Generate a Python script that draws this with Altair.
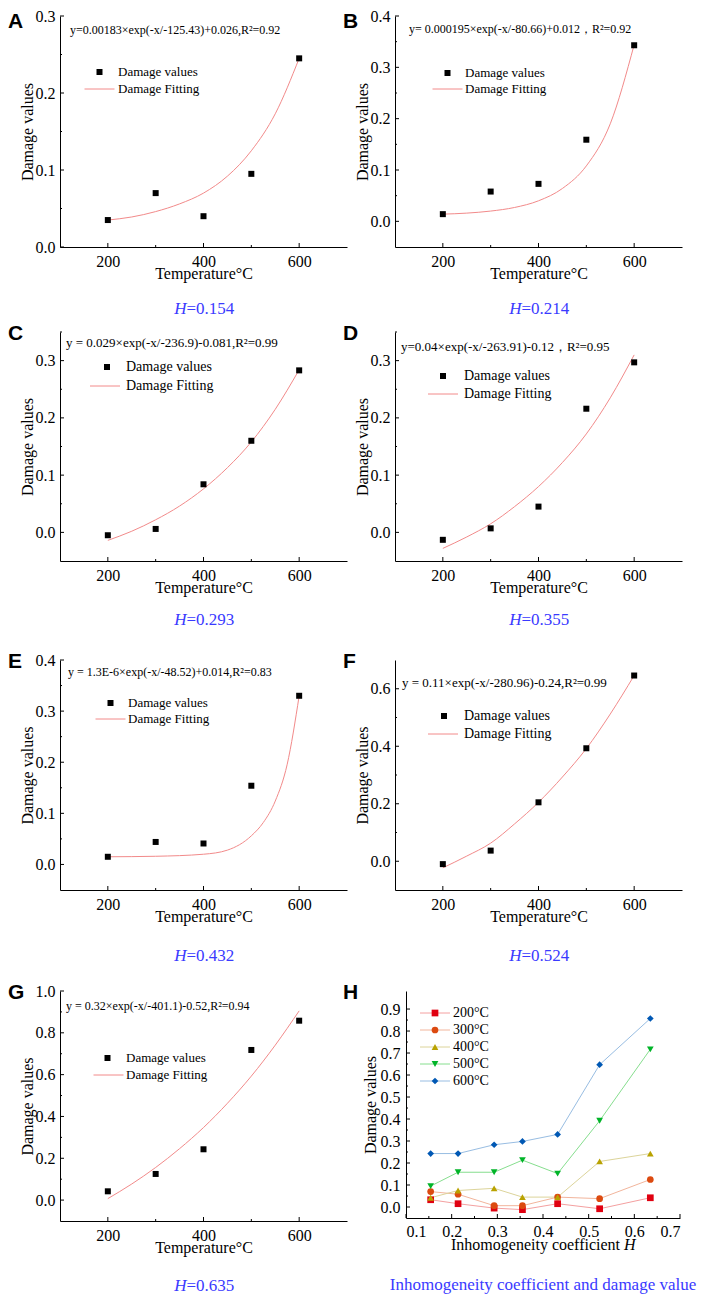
import altair as alt
import pandas as pd

SERIF = "Liberation Serif"
SANS = "Liberation Sans"
BLUE = "#3a3aff"
FIT_COLOR = "#f28a8a"

# ---------------- data ----------------
temps = [200, 300, 400, 500, 600]
fit_temps = [200, 250, 300, 350, 400, 450, 500, 550, 600]
fit_temps_E = [200, 300, 400, 450, 500, 525, 550, 575, 600]

damage_A = [0.035, 0.070, 0.040, 0.095, 0.245]
fit_A = [0.035, 0.039, 0.046, 0.056, 0.070, 0.092, 0.125, 0.173, 0.245]
damage_B = [0.014, 0.058, 0.073, 0.159, 0.343]
fit_B = [0.014, 0.016, 0.020, 0.027, 0.040, 0.064, 0.108, 0.190, 0.344]
damage_C = [-0.005, 0.006, 0.084, 0.160, 0.283]
fit_C = [-0.014, 0.002, 0.022, 0.046, 0.076, 0.113, 0.158, 0.215, 0.284]
damage_D = [-0.013, 0.007, 0.045, 0.216, 0.297]
fit_D = [-0.028, -0.008, 0.015, 0.045, 0.080, 0.122, 0.172, 0.235, 0.310]
damage_E = [0.015, 0.044, 0.041, 0.154, 0.330]
fit_E = [0.015, 0.016, 0.020, 0.028, 0.056, 0.082, 0.124, 0.196, 0.330]
damage_F = [-0.010, 0.037, 0.205, 0.393, 0.646]
fit_F = [-0.023, 0.018, 0.063, 0.130, 0.205, 0.293, 0.392, 0.512, 0.646]
damage_G = [0.042, 0.125, 0.243, 0.718, 0.858]
fit_G = [0.007, 0.077, 0.156, 0.246, 0.347, 0.463, 0.593, 0.741, 0.905]

equations = [
    "y=0.00183×exp(-x/-125.43)+0.026,R²=0.92",
    "y= 0.000195×exp(-x/-80.66)+0.012，R²=0.92",
    "y = 0.029×exp(-x/-236.9)-0.081,R²=0.99",
    "y=0.04×exp(-x/-263.91)-0.12，R²=0.95",
    "y = 1.3E-6×exp(-x/-48.52)+0.014,R²=0.83",
    "y = 0.11×exp(-x/-280.96)-0.24,R²=0.99",
    "y = 0.32×exp(-x/-401.1)-0.52,R²=0.94",
]
letters = ["A", "B", "C", "D", "E", "F", "G", "H"]
h_labels = ["=0.154", "=0.214", "=0.293", "=0.355", "=0.432", "=0.524", "=0.635"]
legend_labels = ["Damage values", "Damage Fitting"]

H_values = [0.154, 0.214, 0.293, 0.355, 0.432, 0.524, 0.635]
series_names = ["200°C", "300°C", "400°C", "500°C", "600°C"]
h_200 = [0.033, 0.015, -0.005, -0.012, 0.015, -0.008, 0.042]
h_300 = [0.070, 0.058, 0.006, 0.006, 0.045, 0.038, 0.125]
h_400 = [0.042, 0.075, 0.085, 0.045, 0.045, 0.207, 0.243]
h_500 = [0.095, 0.158, 0.158, 0.213, 0.152, 0.392, 0.717]
h_600 = [0.243, 0.243, 0.283, 0.298, 0.330, 0.647, 0.857]
point_colors = ["#e00010", "#dc4a10", "#b9a200", "#00b428", "#0058b4"]
line_colors = ["#f4a0a0", "#f2b59c", "#dcd49a", "#86de8e", "#98bde2"]
point_shapes = ["square", "circle", "triangle-up", "triangle-down", "diamond"]

W = 287
IND = dict(color="independent", shape="independent")
AX = dict(labelFont=SERIF, labelFontSize=16, titleFont=SERIF, titleFontSize=16,
          titleFontWeight="normal", labelColor="black", titleColor="black")
# horizontal line legend symbols (custom paths scaled by sqrt(size)/2)
LINE_SYM_36 = "M-5,0L5,0"
LINE_SYM_45 = "M-4.47,0L4.47,0"


def text_layer(txt, x, y, size, color="black", font=SERIF, style="normal",
               weight="normal", align="left"):
    return alt.Chart(alt.Data(values=[{"t": txt}])).mark_text(
        align=align, baseline="middle", font=font, fontSize=size,
        fontStyle=style, fontWeight=weight, color=color
    ).encode(text="t:N", x=alt.value(x), y=alt.value(y))


def tick_layers(xf, yf, xmaj, xmin, ymaj, ymin, xsc, ysc, xax, yax, h):
    out = []
    for vals, ln in ((xmaj, 4), (xmin, 2)):
        out.append(alt.Chart(pd.DataFrame({xf: vals})).mark_rule(
            color="black", strokeWidth=1).encode(
            x=alt.X(f"{xf}:Q", scale=xsc, axis=xax),
            y=alt.value(h), y2=alt.value(h - ln)))
    for vals, ln in ((ymaj, 4), (ymin, 2)):
        out.append(alt.Chart(pd.DataFrame({yf: vals})).mark_rule(
            color="black", strokeWidth=1).encode(
            y=alt.Y(f"{yf}:Q", scale=ysc, axis=yax),
            x=alt.value(0), x2=alt.value(ln)))
    return out


def caption_layers(label, cx, y):
    return [
        text_layer("H", cx - 17, y, 17, BLUE, style="italic", align="right"),
        text_layer(label, cx - 17, y, 17, BLUE, align="left"),
    ]


def temp_panel(i, damage, fx, fy, h, ydom, ymaj, ymin, eq_xy, eq_fs,
               leg, leg_fs, cap_dy, letter_dy):
    xsc = alt.Scale(domain=[100, 700], nice=False, zero=False)
    ysc = alt.Scale(domain=ydom, nice=False, zero=False)
    pts = pd.DataFrame({"T": temps, "D": damage, "k": legend_labels[0]})
    fit = pd.DataFrame({"T": fx, "D": fy, "k": legend_labels[1]})
    xax = alt.Axis(values=[200, 400, 600], title="Temperature°C",
                   labelPadding=14, labelBaseline="middle",
                   titleY=26, titleBaseline="middle", **AX)
    yax = alt.Axis(values=ymaj, format=".1f", title="Damage values",
                   labelPadding=5, titleX=-33, titleBaseline="middle", **AX)
    sq_x, line_x0, text_x, row1, row2 = leg
    pts_layer = alt.Chart(pts).mark_point(
        shape="square", filled=True, size=36, opacity=1).encode(
        x=alt.X("T:Q", scale=xsc, axis=xax),
        y=alt.Y("D:Q", scale=ysc, axis=yax),
        color=alt.Color("k:N", scale=alt.Scale(domain=[legend_labels[0]], range=["black"]),
                        legend=alt.Legend(title=None, orient="none",
                                          legendX=sq_x - 5, legendY=row1 - leg_fs / 2,
                                          symbolType="square", symbolSize=36,
                                          labelFont=SERIF, labelFontSize=leg_fs,
                                          labelColor="black",
                                          labelOffset=text_x - sq_x - 7, padding=0)),
    )
    line_c = line_x0 + 15
    fit_layer = alt.Chart(fit).mark_line(strokeWidth=1, interpolate="monotone").encode(
        x=alt.X("T:Q", scale=xsc, axis=xax),
        y=alt.Y("D:Q", scale=ysc, axis=yax),
        color=alt.Color("k:N", scale=alt.Scale(domain=[legend_labels[1]], range=[FIT_COLOR]),
                        legend=alt.Legend(title=None, orient="none",
                                          legendX=line_c - 5, legendY=row2 - leg_fs / 2,
                                          symbolType=LINE_SYM_36, symbolSize=36,
                                          symbolStrokeWidth=1,
                                          labelFont=SERIF, labelFontSize=leg_fs,
                                          labelColor="black",
                                          labelOffset=text_x - line_c - 7, padding=0)),
    )
    extra = tick_layers("T", "D", [200, 400, 600], [300, 500], ymaj, ymin,
                        xsc, ysc, xax, yax, h)
    extra.append(text_layer(equations[i], eq_xy[0], eq_xy[1], eq_fs))
    extra += caption_layers(h_labels[i], W / 2, h + cap_dy)
    extra.append(text_layer(letters[i], -52, letter_dy, 21, font=SANS, weight="bold"))
    return alt.layer(fit_layer, pts_layer, *extra).resolve_scale(**IND).properties(
        width=W, height=h)


A = temp_panel(0, damage_A, fit_temps, fit_A, 231, [0, 0.3], [0, 0.1, 0.2, 0.3],
               [0.05, 0.15, 0.25], (10, 14), 12, (38, 23, 57, 56, 73), 13, 62, 6)
B = temp_panel(1, damage_B, fit_temps, fit_B, 231, [-0.05, 0.4], [0, 0.1, 0.2, 0.3, 0.4],
               [0.05, 0.15, 0.25, 0.35], (14, 13), 12, (51, 36, 69, 57, 73), 13, 62, 6)
C = temp_panel(2, damage_C, fit_temps, fit_C, 229, [-0.05, 0.35], [0, 0.1, 0.2, 0.3],
               [0.05, 0.15, 0.25, 0.35], (6, 11), 13, (45, 28, 64, 35, 54), 14, 59, 2)
D = temp_panel(3, damage_D, fit_temps, fit_D, 229, [-0.05, 0.35], [0, 0.1, 0.2, 0.3],
               [0.05, 0.15, 0.25, 0.35], (6, 15), 13, (46, 31, 67, 44, 62), 14, 59, 2)
E = temp_panel(4, damage_E, fit_temps_E, fit_E, 230, [-0.05, 0.4], [0, 0.1, 0.2, 0.3, 0.4],
               [0.05, 0.15, 0.25, 0.35], (8, 12), 12, (49, 34, 67, 43, 59), 13, 66, 2)
F = temp_panel(5, damage_F, fit_temps, fit_F, 230, [-0.1, 0.7], [0, 0.2, 0.4, 0.6],
               [0.1, 0.3, 0.5], (7, 23), 13, (47, 31, 67, 56, 74), 14, 66, 2)
G = temp_panel(6, damage_G, fit_temps, fit_G, 230, [-0.1, 1.0], [0, 0.2, 0.4, 0.6, 0.8, 1.0],
               [0.1, 0.3, 0.5, 0.7, 0.9], (6, 15), 12, (46, 32, 65, 67, 84), 13, 65, 2)

# ---------------- panel H ----------------
WH, HH = 274, 227
rows = []
for name, vals in zip(series_names, [h_200, h_300, h_400, h_500, h_600]):
    for hv, dv in zip(H_values, vals):
        rows.append({"H": hv, "D": dv, "S": name})
hdf = pd.DataFrame(rows)
hx = alt.Scale(domain=[0.1, 0.7], nice=False, zero=False)
hy = alt.Scale(domain=[-0.05, 0.982], nice=False, zero=False)
hmaj = [0.0, 0.1, 0.2, 0.3, 0.4, 0.5, 0.6, 0.7, 0.8, 0.9]
hmin = [0.05, 0.15, 0.25, 0.35, 0.45, 0.55, 0.65, 0.75, 0.85]
xmajH = [0.1, 0.2, 0.3, 0.4, 0.5, 0.6, 0.7]
xminH = [0.15, 0.25, 0.35, 0.45, 0.55, 0.65]
hxax = alt.Axis(values=xmajH, format=".1f", title=None, labelPadding=13,
                labelBaseline="middle", **AX)
hyax = alt.Axis(values=hmaj, format=".1f", title="Damage values",
                labelPadding=6, titleX=-36, titleBaseline="middle", **AX)
leg_pts = alt.Legend(title=None, orient="none", legendX=22, legendY=15,
                     symbolSize=45, labelFont=SERIF, labelFontSize=14,
                     labelColor="black", labelOffset=11, padding=0, rowPadding=3)
h_lines = alt.Chart(hdf).mark_line(strokeWidth=1).encode(
    x=alt.X("H:Q", scale=hx, axis=hxax),
    y=alt.Y("D:Q", scale=hy, axis=hyax),
    color=alt.Color("S:N", scale=alt.Scale(domain=series_names, range=line_colors),
                    legend=alt.Legend(title=None, orient="none", legendX=22, legendY=15,
                                      symbolType=LINE_SYM_45, symbolSize=45,
                                      symbolStrokeWidth=1,
                                      labelFont=SERIF, labelFontSize=14, labelOpacity=0,
                                      labelOffset=11, padding=0, rowPadding=3)),
)
h_pts = alt.Chart(hdf).mark_point(filled=True, size=45, opacity=1).encode(
    x=alt.X("H:Q", scale=hx, axis=hxax),
    y=alt.Y("D:Q", scale=hy, axis=hyax),
    color=alt.Color("S:N", scale=alt.Scale(domain=series_names, range=point_colors),
                    legend=leg_pts),
    shape=alt.Shape("S:N", scale=alt.Scale(domain=series_names, range=point_shapes),
                    legend=leg_pts),
)
h_extra = tick_layers("H", "D", xmajH, xminH, hmaj, hmin, hx, hy, hxax, hyax, HH)
h_extra.append(text_layer("Inhomogeneity coefficient", WH / 2 + 77, HH + 27, 16, align="right"))
h_extra.append(text_layer("H", WH / 2 + 81, HH + 27, 16, style="italic", align="left"))
h_extra.append(text_layer("Inhomogeneity coefficient and damage value", WH / 2, HH + 67, 17,
                          BLUE, align="center"))
h_extra.append(text_layer(letters[7], -63, 2, 21, font=SANS, weight="bold"))
Hpanel = alt.layer(h_lines, h_pts, *h_extra).resolve_scale(**IND).properties(
    width=WH, height=HH)

row1 = alt.hconcat(A, B, spacing=-4).resolve_scale(**IND)
row2 = alt.hconcat(C, D, spacing=-4).resolve_scale(**IND)
row3 = alt.hconcat(E, F, spacing=-4).resolve_scale(**IND)
row4 = alt.hconcat(G, Hpanel, spacing=-4).resolve_scale(**IND)

inner34 = alt.vconcat(row3, row4, spacing=18).resolve_scale(**IND)
inner234 = alt.vconcat(row2, inner34, spacing=23).resolve_scale(**IND)
chart = alt.vconcat(row1, inner234, spacing=6).resolve_scale(**IND).properties(
    padding=0
).configure_view(stroke=None).configure_axis(
    grid=False, ticks=False, domainColor="black", domainWidth=1, **AX
)

chart.save("out.html", embed_options={"renderer": "svg", "actions": False})
